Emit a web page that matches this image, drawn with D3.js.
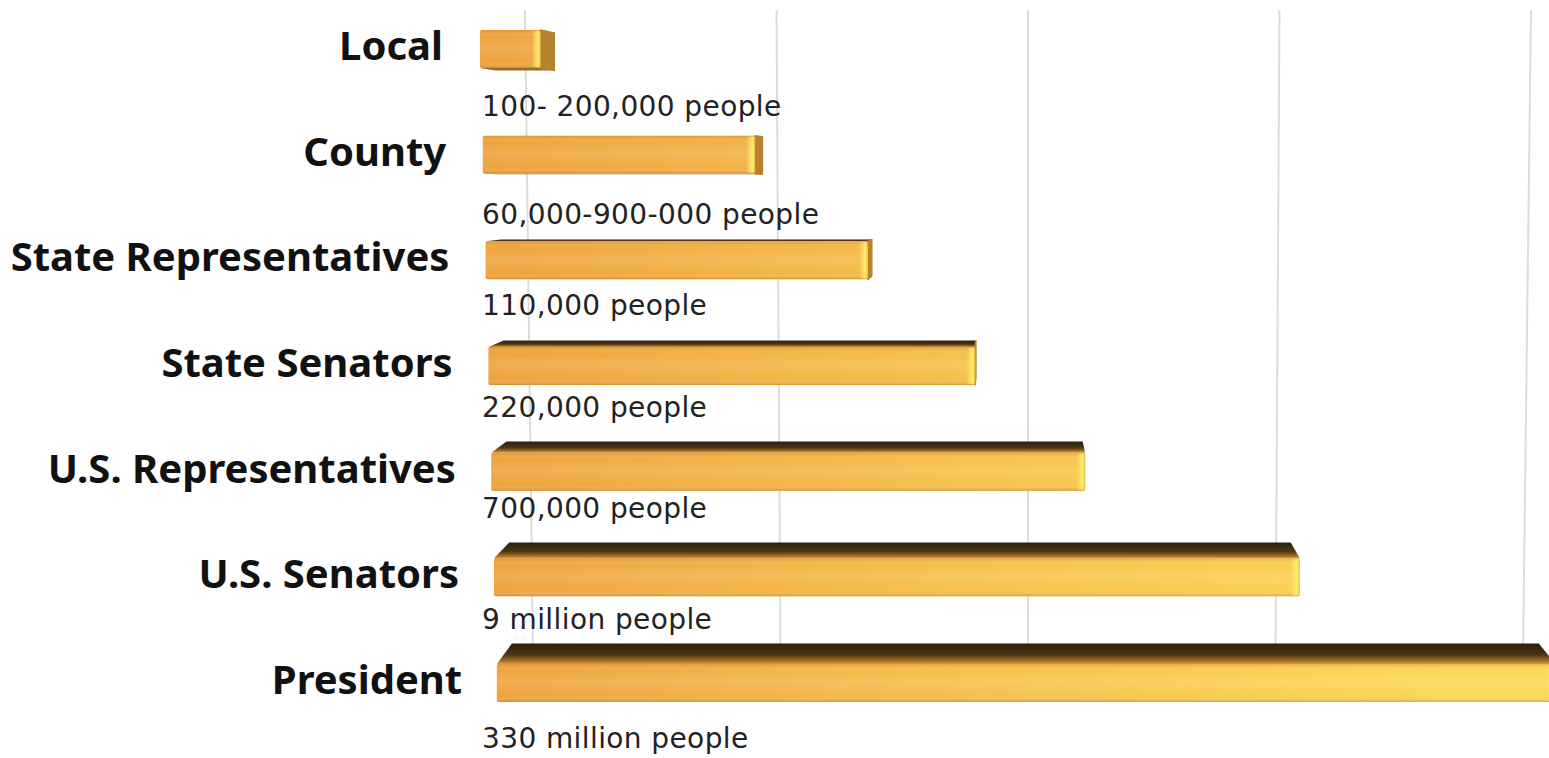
<!DOCTYPE html>
<html>
<head>
<meta charset="utf-8">
<script src="https://cdn.jsdelivr.net/npm/d3@7"></script>
<style>
  html, body { margin: 0; padding: 0; background: #fff; overflow: hidden; }
  .label { font-family: "Noto Sans", sans-serif; font-weight: bold; font-size: 40px; fill: #111; }
  .note { font-family: "DejaVu Sans", sans-serif; font-size: 28px; letter-spacing: 0.4px; fill: #222; }
</style>
</head>
<body>
<div class="chart"></div>
<script>
// rows, top to bottom
const categories = ["Local", "County", "State Representatives", "State Senators",
  "U.S. Representatives", "U.S. Senators", "President"];
const notes = ["100- 200,000 people", "60,000-900-000 people", "110,000 people",
  "220,000 people", "700,000 people", "9 million people", "330 million people"];
// relative bar length (one unit = one gridline step, front plane)
const values = [0.22, 0.99, 1.39, 1.77, 2.16, 2.93, 3.85];
// gridlines on the back wall
const gridTicks = [0, 1, 2, 3, 4];

const W = 1549, H = 758;
// small per-row nudges of the note text (baseline below the bar centre)
const noteDy = [67, 69, 55, 51, 46, 52, 65];

const svg = d3.select(".chart").append("svg")
  .attr("width", W).attr("height", H);

const defs = svg.append("defs");

const frontGrad = defs.append("linearGradient").attr("id", "front")
  .attr("gradientUnits", "userSpaceOnUse")
  .attr("x1", 480).attr("x2", 1450).attr("y1", 0).attr("y2", 0);
frontGrad.append("stop").attr("offset", 0).attr("stop-color", "#eea23c");
frontGrad.append("stop").attr("offset", 0.5).attr("stop-color", "#f6c04b");
frontGrad.append("stop").attr("offset", 1).attr("stop-color", "#fcd856");

const shadeGrad = defs.append("linearGradient").attr("id", "shade")
  .attr("x1", 0).attr("x2", 0).attr("y1", 0).attr("y2", 1);
shadeGrad.append("stop").attr("offset", 0).attr("stop-color", "#c27010").attr("stop-opacity", 0.35);
shadeGrad.append("stop").attr("offset", 0.18).attr("stop-color", "#fff").attr("stop-opacity", 0.0);
shadeGrad.append("stop").attr("offset", 0.45).attr("stop-color", "#fff").attr("stop-opacity", 0.12);
shadeGrad.append("stop").attr("offset", 0.85).attr("stop-color", "#fff").attr("stop-opacity", 0.0);
shadeGrad.append("stop").attr("offset", 1).attr("stop-color", "#b86a10").attr("stop-opacity", 0.45);

const topGrad = defs.append("linearGradient").attr("id", "topface")
  .attr("x1", 0).attr("x2", 0).attr("y1", 0).attr("y2", 1);
topGrad.append("stop").attr("offset", 0).attr("stop-color", "#2e200c");
topGrad.append("stop").attr("offset", 0.55).attr("stop-color", "#4a3416");
topGrad.append("stop").attr("offset", 0.85).attr("stop-color", "#a46e22");
topGrad.append("stop").attr("offset", 1).attr("stop-color", "#e29a38");

const endGrad = defs.append("linearGradient").attr("id", "endhi")
  .attr("x1", 0).attr("x2", 1).attr("y1", 0).attr("y2", 0);
endGrad.append("stop").attr("offset", 0).attr("stop-color", "#ffe86a").attr("stop-opacity", 0);
endGrad.append("stop").attr("offset", 0.7).attr("stop-color", "#ffec70").attr("stop-opacity", 1);
endGrad.append("stop").attr("offset", 1).attr("stop-color", "#f0c040").attr("stop-opacity", 1);

// scales
const y = d3.scalePoint().domain(categories).range([49, 683]);
const x = d3.scaleLinear().domain([0, 1]).range([0, 275]);
const gx = d3.scaleLinear().domain([0, 4]).range([525, 1531]);
const barH = 38;
const rowShift = i => 480 + 2.8 * i;        // bars drift right going down (3d view)

// wall gridlines, slightly converging to the bottom
const gcx = 1027, gTop = 10, gBot = 660, gShrink = 0.984;
svg.append("g").selectAll("line")
  .data(gridTicks)
  .join("line")
  .attr("x1", d => gx(d)).attr("y1", gTop)
  .attr("x2", d => gcx + (gx(d) - gcx) * gShrink).attr("y2", gBot)
  .attr("stroke", "#dcdcdc").attr("stroke-width", 2);

// depth of each bar: back corners pulled towards an eye point
// (looking slightly up at the top rows, down at the lower ones)
const V = [1000, 200], kx = 0.03;
const ky = yy => (yy < V[1] ? 0.018 : 0.044);
const back = p => [p[0] + (V[0] - p[0]) * kx, p[1] + (V[1] - p[1]) * ky(p[1])];
const poly = pts => pts.map(p => p.join(",")).join(" ");

const rows = categories.map((c, i) => ({ cat: c, note: notes[i], v: values[i], i }));

svg.append("g").selectAll("g")
  .data(rows)
  .join("g")
  .each(function(d) {
    const g = d3.select(this);
    const x0 = rowShift(d.i), x1 = x0 + x(d.v);
    const yt = y(d.cat) - barH / 2, yb = yt + barH;
    const TL = [x0, yt], TR = [x1, yt], BR = [x1, yb], BL = [x0, yb];
    const bTL = back(TL), bTR = back(TR), bBR = back(BR), bBL = back(BL);

    if (bTL[1] < yt) {
      g.append("polygon").attr("points", poly([TL, bTL, bTR, TR]))
        .attr("fill", "url(#topface)");
    }
    if (bBL[1] > yb) {
      g.append("polygon").attr("points", poly([BL, BR, bBR, bBL]))
        .attr("fill", "#9c6a22");
    }
    if (bTR[0] > x1) {
      g.append("polygon").attr("points", poly([TR, bTR, bBR, BR]))
        .attr("fill", "#b6822e")
        .attr("stroke", "#b6822e").attr("stroke-width", 1.5).attr("stroke-linejoin", "round");
    }

    g.append("rect")
      .attr("x", x0).attr("y", yt).attr("width", x1 - x0).attr("height", barH)
      .attr("rx", 2).attr("fill", "url(#front)");
    g.append("rect")
      .attr("x", x0).attr("y", yt).attr("width", x1 - x0).attr("height", barH)
      .attr("rx", 2).attr("fill", "url(#shade)");
    g.append("rect")
      .attr("x", x1 - 9).attr("y", yt + 1).attr("width", 9).attr("height", barH - 2)
      .attr("rx", 2).attr("fill", "url(#endhi)");
  });

// category labels
svg.append("g").selectAll("text")
  .data(rows)
  .join("text")
  .attr("class", "label")
  .attr("text-anchor", "end")
  .attr("x", d => 443 + 3.2 * d.i)
  .attr("y", d => y(d.cat) + 11)
  .text(d => d.cat);

// population notes
svg.append("g").selectAll("text")
  .data(rows)
  .join("text")
  .attr("class", "note")
  .attr("x", 482)
  .attr("y", d => y(d.cat) + noteDy[d.i])
  .text(d => d.note);
</script>
</body>
</html>
